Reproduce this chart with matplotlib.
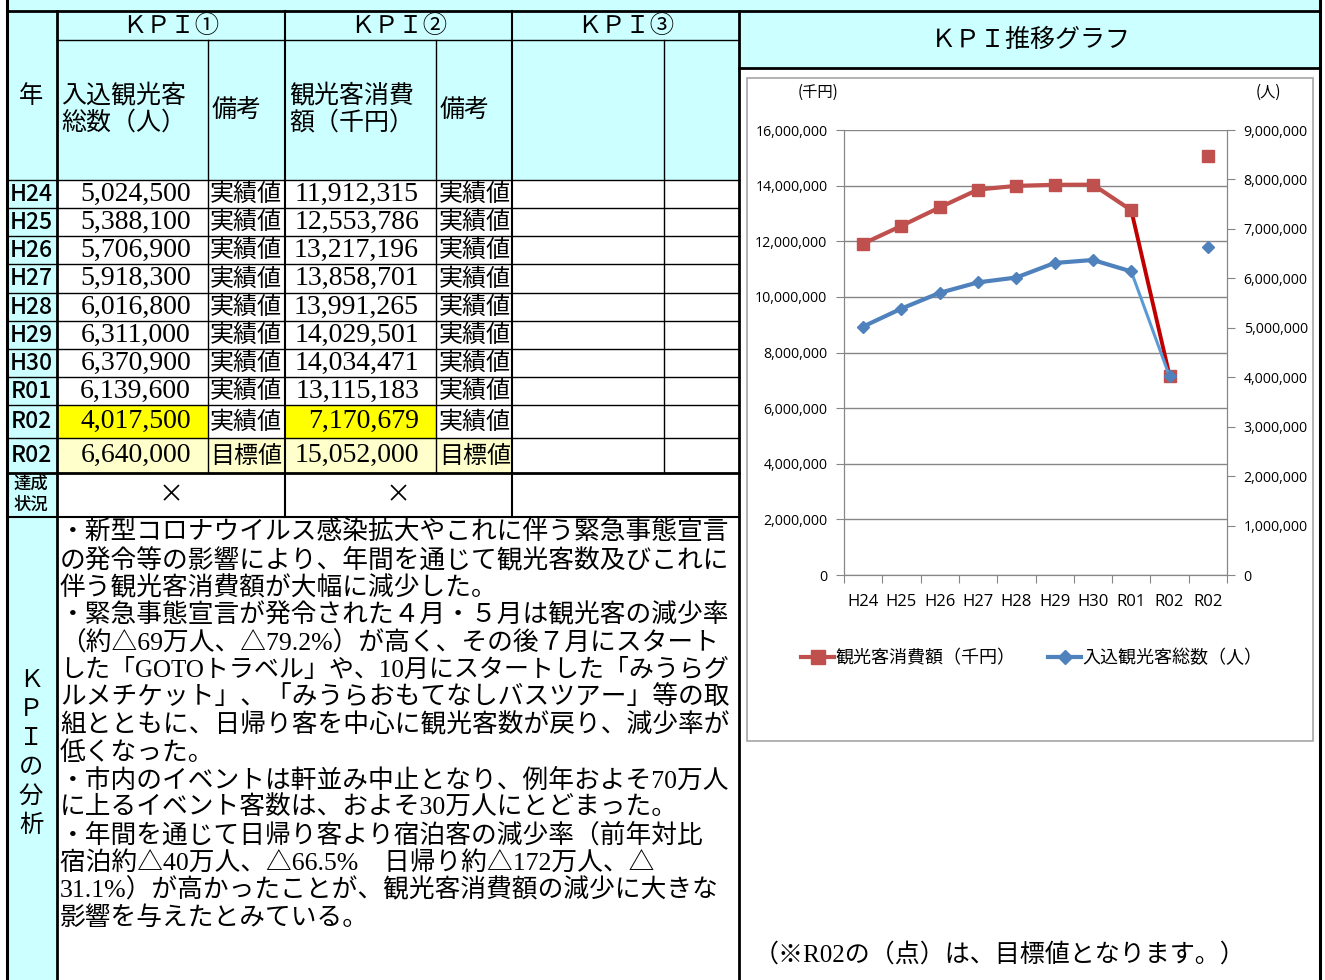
import numpy as np
import matplotlib.pyplot as plt
from matplotlib.patches import Rectangle
from matplotlib.lines import Line2D
from matplotlib.ticker import FuncFormatter

plt.rcParams['font.family'] = ['Noto Sans CJK JP', 'DejaVu Sans']
SERIF = ['Liberation Serif', 'Noto Sans CJK JP', 'DejaVu Sans']

# ---- data ----
years = ['H24', 'H25', 'H26', 'H27', 'H28', 'H29', 'H30', 'R01', 'R02', 'R02']
visitors = [5024500, 5388100, 5706900, 5918300, 6016800, 6311000, 6370900, 6139600, 4017500, 6640000]
spending = [11912315, 12553786, 13217196, 13858701, 13991265, 14029501, 14034471, 13115183, 7170679, 15052000]
notes = ['実績値'] * 9 + ['目標値']
status = ['×', '×']
kpi_heads = ['ＫＰＩ①', 'ＫＰＩ②', 'ＫＰＩ③']
analysis = [
    '・新型コロナウイルス感染拡大やこれに伴う緊急事態宣言',
    'の発令等の影響により、年間を通じて観光客数及びこれに',
    '伴う観光客消費額が大幅に減少した。',
    '・緊急事態宣言が発令された４月・５月は観光客の減少率',
    '（約△69万人、△79.2%）が高く、その後７月にスタート',
    'した「GOTOトラベル」や、10月にスタートした「みうらグ',
    'ルメチケット」、「みうらおもてなしバスツアー」等の取',
    '組とともに、日帰り客を中心に観光客数が戻り、減少率が',
    '低くなった。',
    '・市内のイベントは軒並み中止となり、例年およそ70万人',
    'に上るイベント客数は、およそ30万人にとどまった。',
    '・年間を通じて日帰り客より宿泊客の減少率（前年対比',
    '宿泊約△40万人、△66.5%　日帰り約△172万人、△',
    '31.1%）が高かったことが、観光客消費額の減少に大きな',
    '影響を与えたとみている。',
]

W, H = 1325, 980
CYAN = '#CCFFFF'
cols = [7, 57, 208, 285, 436, 512, 664, 739]
row_y = [180, 208, 236, 264, 293, 321, 349, 377, 405, 438, 473]

fig = plt.figure(figsize=(W / 100, H / 100), dpi=100)
base = fig.add_axes([0, 0, 1, 1])
base.set_xlim(0, W)
base.set_ylim(H, 0)
base.axis('off')


def box(x0, y0, x1, y1, fc):
    base.add_patch(Rectangle((x0, y0), x1 - x0, y1 - y0, facecolor=fc, edgecolor='none', zorder=0))


def hline(y, x0, x1, lw=1.0):
    base.plot([x0, x1], [y, y], color='black', lw=lw, zorder=3)


def vline(x, y0, y1, lw=1.0):
    base.plot([x, x], [y0, y1], color='black', lw=lw, zorder=3)


# fills
box(7, 0, 1320, 11, CYAN)
box(7, 11, 739, 180, CYAN)
box(739, 11, 1320, 68, CYAN)
box(7, 180, 57, 980, CYAN)
box(57, row_y[8], 208, row_y[9], '#FFFF00')
box(285, row_y[8], 436, row_y[9], '#FFFF00')
box(57, row_y[9], 512, row_y[10], '#FFFFCC')

# grid lines of table
hline(11, 7, 1320, 2)
vline(7, 0, 980, 2.2)
vline(1320, 0, 980, 2.2)
vline(57, 11, 980, 2)
vline(739, 11, 980, 2)
hline(40, 57, 739, 1)
for x in (208, 436, 664):
    vline(x, 40, row_y[-1], 1)
for x in (285, 512):
    vline(x, 11, 517, 1.5)
for y in row_y[:-1]:
    hline(y, 7, 739, 1)
hline(row_y[-1], 7, 739, 2)
hline(517, 7, 739, 1.5)
hline(68, 739, 1320, 2)

# header texts
for i, t in enumerate(kpi_heads):
    base.text((cols[1 + 2 * i] + cols[3 + 2 * i]) / 2, 26, t, fontsize=17.5, ha='center', va='center')
base.text(31, 96, '年', fontsize=17.5, ha='center', va='center')
base.text(61, 96, '入込観光客', fontsize=18, ha='left', va='center')
base.text(61, 123, '総数（人）', fontsize=18, ha='left', va='center')
base.text(212, 110, '備考', fontsize=18, ha='left', va='center')
base.text(289, 96, '観光客消費', fontsize=18, ha='left', va='center')
base.text(289, 123, '額（千円）', fontsize=18, ha='left', va='center')
base.text(440, 110, '備考', fontsize=18, ha='left', va='center')

# data rows
for i in range(len(years)):
    yc = (row_y[i] + row_y[i + 1]) / 2
    base.text(31, yc, years[i], fontsize=16.5, ha='center', va='center', fontweight='medium')
    base.text(191, yc, f'{visitors[i]:,}', fontsize=20, family=SERIF, ha='right', va='center')
    base.text(210, yc, notes[i], fontsize=17.3, ha='left', va='center')
    base.text(419, yc, f'{spending[i]:,}', fontsize=20, family=SERIF, ha='right', va='center')
    base.text(439, yc, notes[i], fontsize=17.3, ha='left', va='center')

# achievement row
base.text(31, 484, '達成', fontsize=12.5, ha='center', va='center', fontweight='medium')
base.text(31, 505, '状況', fontsize=12.5, ha='center', va='center', fontweight='medium')
base.text(171, 495, status[0], fontsize=18, ha='center', va='center')
base.text(398, 495, status[1], fontsize=18, ha='center', va='center')

# analysis row
for j, ch in enumerate(['Ｋ', 'Ｐ', 'Ｉ', 'の', '分', '析']):
    base.text(31, 680 + j * 29, ch, fontsize=17.5, ha='center', va='center')
renderer = fig.canvas.get_renderer()
for j, line in enumerate(analysis):
    t = base.text(60, 533 + j * 27.5, line, fontsize=18.5, family=SERIF, ha='left', va='center')
    # shrink lines that would run past the cell border
    w = t.get_window_extent(renderer).x1
    if w > 732:
        t.set_fontsize(18.5 * (732 - 60) / (w - 60))

# right panel
base.text(1031, 40, 'ＫＰＩ推移グラフ', fontsize=18, ha='center', va='center')
base.add_patch(Rectangle((747, 78), 1313 - 747, 741 - 78, facecolor='none',
                         edgecolor='#A6A6A6', lw=1.2, zorder=2))
base.text(754, 955, '（※R02の（点）は、目標値となります。）', fontsize=18, family=SERIF,
          ha='left', va='center')
base.text(818, 92, '(千円)', fontsize=11, ha='center', va='center')
base.text(1268, 92, '(人)', fontsize=11, ha='center', va='center')

# ---- chart ----
GRAY = '#868686'
TICKFONT = ['Open Sans', 'Noto Sans']
ax = fig.add_axes([844 / W, 1 - 575 / H, (1227 - 844) / W, (575 - 130) / H])
ax.set_xlim(0, 10)
ax.set_ylim(0, 16000000)
ax.set_yticks(np.arange(0, 16000001, 2000000))
ax.yaxis.set_major_formatter(FuncFormatter(lambda v, p: f'{int(v):,}'))
ax.grid(axis='y', color=GRAY, lw=1)
ax.set_axisbelow(True)
ax.set_xticks(np.arange(0, 11))
ax.set_xticklabels([])
ax.set_xticks(np.arange(10) + 0.5, minor=True)
ax.set_xticklabels(years, minor=True, fontsize=12, family=TICKFONT)
ax.tick_params(axis='x', which='minor', length=0, pad=14)
ax.tick_params(axis='x', which='major', length=6, color=GRAY)
ax.tick_params(axis='y', length=6, color=GRAY, labelsize=10.2, pad=6)
for lab in ax.get_yticklabels():
    lab.set_family(TICKFONT)
for s in ax.spines.values():
    s.set_color(GRAY)
ax.spines['top'].set_visible(False)

ax2 = ax.twinx()
ax2.set_ylim(0, 9000000)
ax2.set_yticks(np.arange(0, 9000001, 1000000))
ax2.yaxis.set_major_formatter(FuncFormatter(lambda v, p: f'{int(v):,}'))
ax2.tick_params(axis='y', length=6, color=GRAY, labelsize=10.2, pad=6)
for lab in ax2.get_yticklabels():
    lab.set_family(TICKFONT)
for s in ax2.spines.values():
    s.set_color(GRAY)
ax2.spines['top'].set_visible(False)

xs = np.arange(10) + 0.5
RED, DRED = '#C0504D', '#C00000'
BLUE, LBLUE = '#4F81BD', '#5B9BD5'

ax.plot(xs[7:9], spending[7:9], color=DRED, lw=2.8, zorder=3)
ax.plot(xs[:8], spending[:8], color=RED, lw=3, marker='s', ms=9, zorder=4)
ax.plot(xs[8], spending[8], color=RED, marker='s', ms=9, zorder=4)
ax.plot(xs[9], spending[9], color=RED, marker='s', ms=8, zorder=4)

ax2.plot(xs[7:9], visitors[7:9], color=LBLUE, lw=2.2, zorder=3)
ax2.plot(xs[:8], visitors[:8], color=BLUE, lw=3, marker='D', ms=6.5, zorder=4)
ax2.plot(xs[8], visitors[8], color=BLUE, marker='D', ms=6.5, zorder=4)
ax2.plot(xs[9], visitors[9], color=BLUE, marker='D', ms=6.5, zorder=4)

handles = [Line2D([], [], color=RED, lw=3, marker='s', ms=10),
           Line2D([], [], color=BLUE, lw=3, marker='D', ms=7)]
fig.legend(handles, ['観光客消費額（千円）', '入込観光客総数（人）'], loc='center',
           bbox_to_anchor=(1032 / W, 1 - 658 / H), ncol=2, frameon=False,
           fontsize=13, handlelength=1.8, handletextpad=0.1, columnspacing=1.8)

fig.savefig('out.png', dpi=100)
